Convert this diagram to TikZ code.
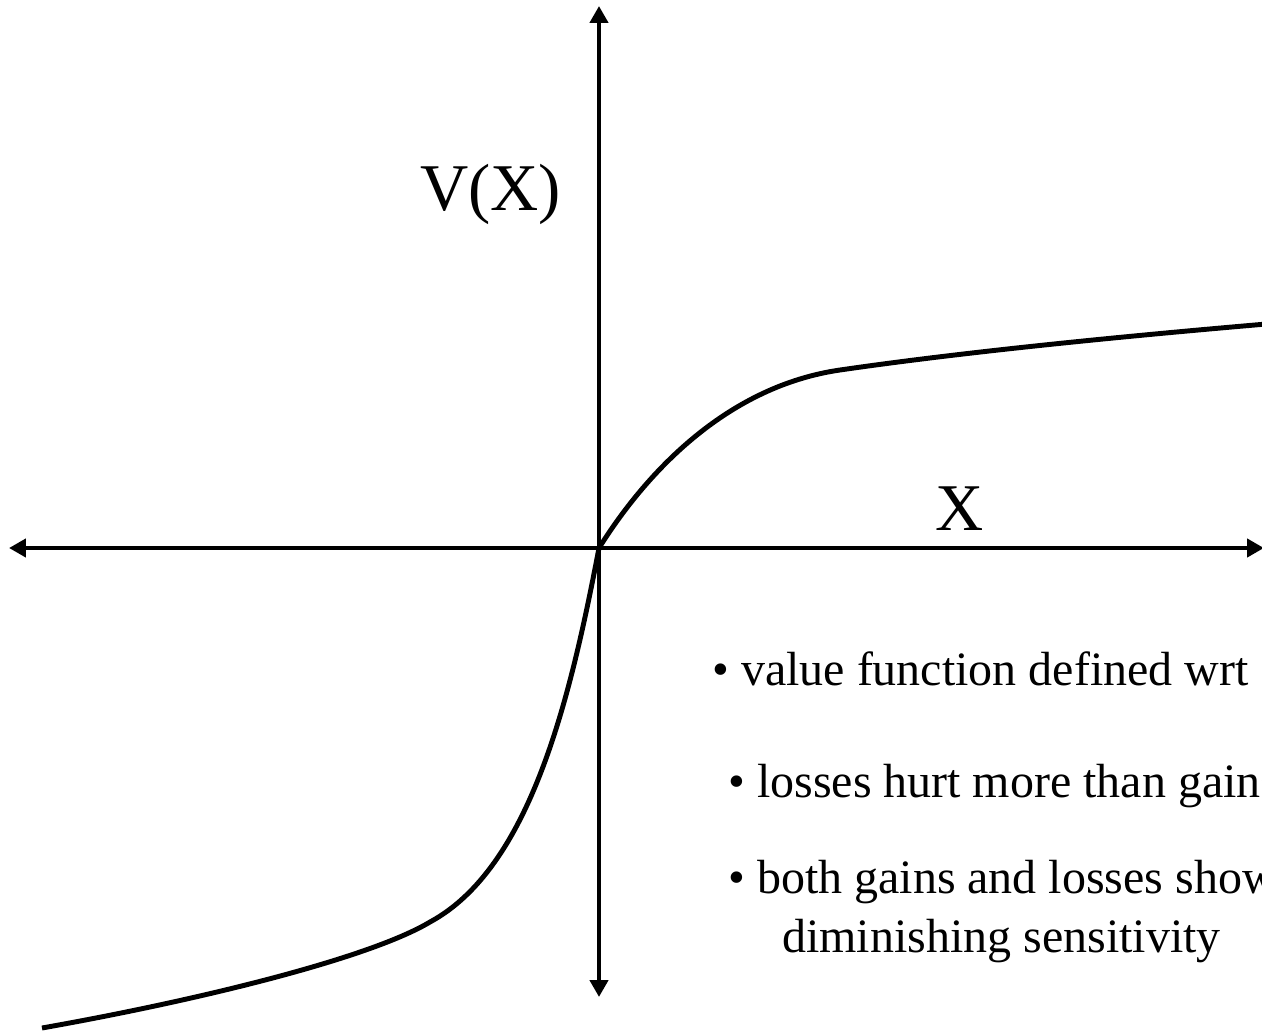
\documentclass[tikz,border=0pt]{standalone}
\usepackage{fontspec}
\setmainfont{Liberation Serif}
\usetikzlibrary{arrows.meta}
\tikzset{
  axis/.style={line width=2.8pt, {Triangle[length=3.4mm,width=3.6mm]}-{Triangle[length=3.4mm,width=3.6mm]}},
  curve/.style={line width=2.8pt, line join=round},
  axlbl/.style={font=\fontsize{38}{40}\selectfont, inner sep=0pt, anchor=base west},
  note/.style={font=\fontsize{27.3}{30}\selectfont, inner sep=0pt, anchor=base west},
}
\begin{document}
\begin{tikzpicture}[x=0.02cm, y=-0.02cm]
\useasboundingbox (0,0) rectangle (1262,1031);
\clip (0,0) rectangle (1262,1031);

% axes
\coordinate (O) at (599,548);
\coordinate (xl) at (9,548);
\coordinate (xr) at (1264,548);
\coordinate (yt) at (599,6);
\coordinate (yb) at (599,997);
\draw[axis] (xl) -- (xr);
\draw[axis] (yt) -- (yb);

% value function
\draw[curve] (42,1028) .. controls (200,1000) and (370,958) .. (430,922)
  .. controls (530,868) and (570,700) .. (O)
  .. controls (649,468) and (730,386) .. (840,370)
  .. controls (950,354) and (1100,338) .. (1290,322);

% labels
\node[axlbl] (vx) at (420,210) {V(X)};
\node[axlbl] (xx) at (935,530) {X};

% notes
\node[note] (n1) at (712,685) {• value function defined wrt};
\node[note] (n2) at (728,797) {• losses hurt more than gains};
\node[note] (n3) at (728,893) {• both gains and losses show};
\node[note] (n4) at (782,952) {diminishing sensitivity};
\end{tikzpicture}
\end{document}
